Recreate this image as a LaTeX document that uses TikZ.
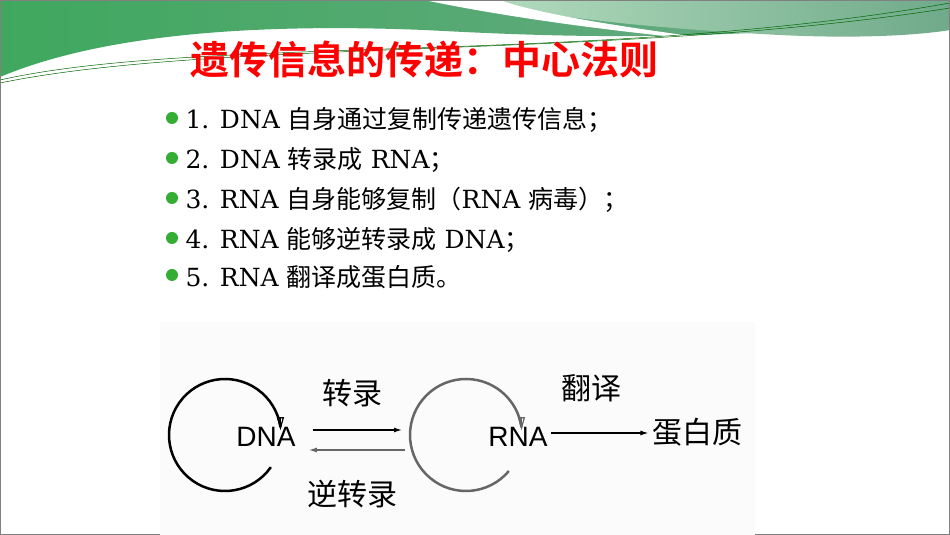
\documentclass[tikz,border=0pt]{standalone}
\usepackage{fontspec}
\setmainfont{DejaVu Serif}
\newfontfamily\cjk{Noto Sans CJK SC}
\newfontfamily\cjkb{Noto Sans CJK SC Bold}
\newfontfamily\sans{Liberation Sans}
\usetikzlibrary{arrows.meta,calc}
\definecolor{gA}{HTML}{6FAA8A}
\definecolor{gB}{HTML}{B5DDBF}
\definecolor{gC}{HTML}{3FA85E}
\tikzset{
 bul/.style={anchor=west,font=\fontsize{25}{25}\selectfont},
 dot/.style={circle,fill=green!60!black!80,inner sep=0pt,minimum size=12pt},
 lab/.style={font=\cjk\fontsize{30}{30}\selectfont},
 mol/.style={font=\sans\fontsize{28}{28}\selectfont,inner sep=1pt},
 arr/.style={-{Latex[length=8pt,width=5pt]},line width=1.3pt},
}
\begin{document}
\begin{tikzpicture}[x=1pt,y=1pt]
\useasboundingbox (0,0) rectangle (950,535);
\fill[white] (0,0) rectangle (950,535);
% banner
\shade[left color=gC,right color=gA] (0,535) -- (0,458) .. controls (100,500) and (250,512) .. (424,505) .. controls (560,498) and (700,492) .. (950,517) -- (950,535) -- cycle;
\shade[left color=gB,right color=gA] (470,535) .. controls (560,515) and (680,505) .. (780,500) .. controls (860,496) and (920,500) .. (950,505) -- (950,535) -- cycle;
\fill[white] (424,535) .. controls (520,515) and (640,500) .. (760,490) .. controls (640,505) and (540,520) .. (500,535) -- cycle;
\draw[green!40!black,line width=0.5pt] (0,455) .. controls (200,500) and (600,470) .. (950,532);
\draw[green!40!black,line width=0.5pt] (0,452) .. controls (220,497) and (620,475) .. (950,527);
\draw[gray,line width=0.8pt] (0.5,0.5) rectangle (949.5,534.5);
\node[font=\cjkb\fontsize{39}{39}\selectfont,text=red] (title) at (424,475) {遗传信息的传递：中心法则};
% bullets
\foreach \y in {417,377,337,297,260} \node[dot] at (172,\y) {};
\node[bul] (b1) at (182,415) {1. DNA {\cjk 自身通过复制传递遗传信息；}};
\node[bul] (b2) at (182,375) {2. DNA {\cjk 转录成} RNA{\cjk ；}};
\node[bul] (b3) at (182,335) {3. RNA {\cjk 自身能够复制（}RNA {\cjk 病毒}{\cjk ）；}};
\node[bul] (b4) at (182,295) {4. RNA {\cjk 能够逆转录成} DNA{\cjk ；}};
\node[bul] (b5) at (182,258) {5. RNA {\cjk 翻译成蛋白质。}};
% diagram panel
\fill[white!97!gray] (160,0) rectangle (755,213);
\draw[line width=2.5pt] (225,100) ++(-35:56) arc[start angle=-35,end angle=-352,radius=56];
\draw[-{Triangle[open,length=13pt,width=7pt]},line width=1.2pt] (225,100) ++(-352:56) -- ++(0,-3);
\draw[gray!80!black,line width=2.5pt] (466,100) ++(-40:56) arc[start angle=-40,end angle=-352,radius=56];
\draw[gray!80!black,-{Triangle[open,length=13pt,width=7pt]},line width=1.2pt] (466,100) ++(-352:56) -- ++(0,-3);
\node[mol] (dna) at (266,98) {DNA};
\node[mol] (rna) at (518,98) {RNA};
\node[lab] (prot) at (697,103) {蛋白质};
\node[lab] (zl) at (352,142) {转录};
\node[lab] (nzl) at (352,41) {逆转录};
\node[lab] (fy) at (591,147) {翻译};
\coordinate (a1) at (402,105);
\draw[arr] ($(dna.east)+(16,7)$) -- (a1);
\draw[arr,gray!80!black] ($(a1)+(3,-20)$) -- ($(dna.east)+(12,-13)$);
\draw[arr] ($(rna.east)+(2,4)$) -- (prot.west|-0,102);
\end{tikzpicture}
\end{document}
